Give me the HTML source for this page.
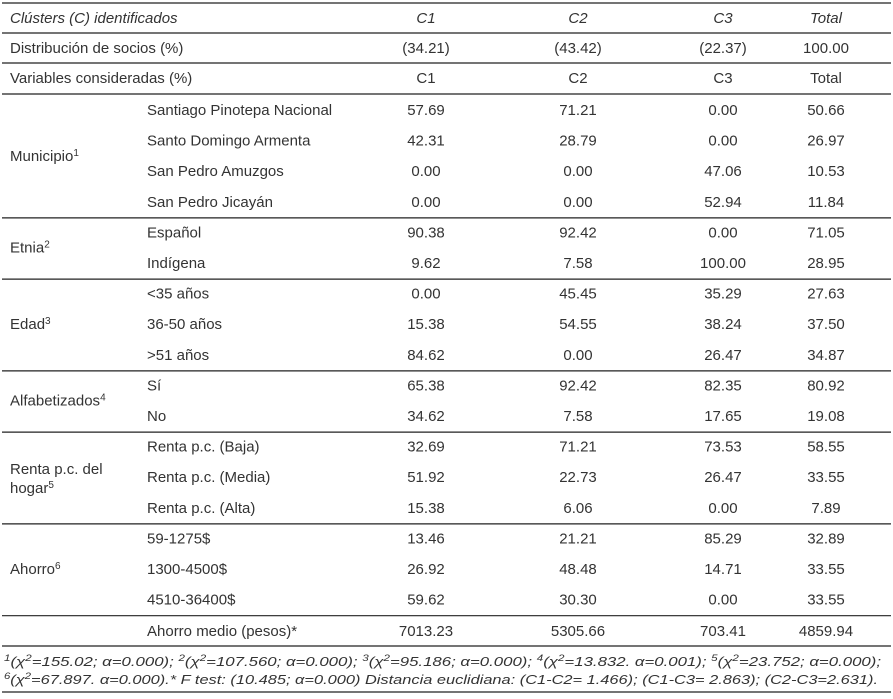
<!DOCTYPE html>
<html><head><meta charset="utf-8"><style>
html,body{margin:0;padding:0;background:#fff;}
svg{display:block;}
text{font-family:"Liberation Sans",sans-serif;font-size:15px;fill:#333;}
.fn{font-size:13px;font-style:italic;}
</style></head><body>
<svg id="t" width="893" height="699" viewBox="0 0 893 699"></svg>
<script>
const colX=[426,578,723,826];
const header=["C1","C2","C3","Total"];
const dist=["(34.21)","(43.42)","(22.37)","100.00"];
const groups=[
 {name:"Municipio",sup:"1",rows:[["Santiago Pinotepa Nacional","57.69","71.21","0.00","50.66"],["Santo Domingo Armenta","42.31","28.79","0.00","26.97"],["San Pedro Amuzgos","0.00","0.00","47.06","10.53"],["San Pedro Jicayán","0.00","0.00","52.94","11.84"]]},
 {name:"Etnia",sup:"2",rows:[["Español","90.38","92.42","0.00","71.05"],["Indígena","9.62","7.58","100.00","28.95"]]},
 {name:"Edad",sup:"3",rows:[["<35 años","0.00","45.45","35.29","27.63"],["36-50 años","15.38","54.55","38.24","37.50"],[">51 años","84.62","0.00","26.47","34.87"]]},
 {name:"Alfabetizados",sup:"4",rows:[["Sí","65.38","92.42","82.35","80.92"],["No","34.62","7.58","17.65","19.08"]]},
 {name:"Renta p.c. del|hogar",sup:"5",rows:[["Renta p.c. (Baja)","32.69","71.21","73.53","58.55"],["Renta p.c. (Media)","51.92","22.73","26.47","33.55"],["Renta p.c. (Alta)","15.38","6.06","0.00","7.89"]]},
 {name:"Ahorro",sup:"6",rows:[["59-1275$","13.46","21.21","85.29","32.89"],["1300-4500$","26.92","48.48","14.71","33.55"],["4510-36400$","59.62","30.30","0.00","33.55"]]}
];
const svg=document.getElementById('t');
const NS="http://www.w3.org/2000/svg";
function txt(x,y,s,anchor,cls){const e=document.createElementNS(NS,'text');e.setAttribute('x',x);e.setAttribute('y',y);if(anchor)e.setAttribute('text-anchor',anchor);if(cls)e.setAttribute('class',cls);e.textContent=s;svg.appendChild(e);return e;}
function sup(e,s){const t=document.createElementNS(NS,'tspan');t.setAttribute('font-size','10');t.setAttribute('dy','-5');t.textContent=s;e.appendChild(t);}
function span(e,s,isSup){const t=document.createElementNS(NS,'tspan');if(isSup){t.setAttribute('font-size','9');t.setAttribute('baseline-shift','super');}t.textContent=s;e.appendChild(t);}
function line(y){const l=document.createElementNS(NS,'line');l.setAttribute('x1',2);l.setAttribute('x2',891);l.setAttribute('y1',y);l.setAttribute('y2',y);l.setAttribute('stroke','#222');l.setAttribute('stroke-width','1.2');


svg.appendChild(l);}
const B=5;
line(3);
let e=txt(10,18+B,"Clústers (C) identificados");e.setAttribute('font-style','italic');


header.forEach((h,i)=>{const t=txt(colX[i],18+B,h,'middle');t.setAttribute('font-style','italic');});
line(33);
txt(10,48+B,"Distribución de socios (%)");
dist.forEach((h,i)=>txt(colX[i],48+B,h,'middle'));
line(63);
txt(10,78+B,"Variables consideradas (%)");
header.forEach((h,i)=>txt(colX[i],78+B,h,'middle'));
line(94);
let y=110;
groups.forEach((g,gi)=>{
 const y0=y;
 g.rows.forEach(r=>{
  const t=txt(147,y+B,r[0]);
  
  
  for(let i=1;i<5;i++){txt(colX[i-1],y+B,r[i],'middle');}
  y+=30.6;
 });
 const mid=(y0+y-30.6)/2;
 const parts=g.name.split('|');
 if(parts.length==1){const t=txt(10,mid+B,parts[0]);sup(t,g.sup);
  
  }
 else{txt(10,mid-8+B,parts[0]);const t=txt(10,mid+11+B,parts[1]);sup(t,g.sup);}
 line(y-15+0.5);
});
const am=["7013.23","5305.66","703.41","4859.94"];
txt(147,631+B,"Ahorro medio (pesos)*");
am.forEach((h,i)=>txt(colX[i],631+B,h,'middle'));
line(646);
const fn1=[["1",1],["(χ",0],["2",1],["=155.02; α=0.000); ",0],["2",1],["(χ",0],["2",1],["=107.560; α=0.000); ",0],["3",1],["(χ",0],["2",1],["=95.186; α=0.000); ",0],["4",1],["(χ",0],["2",1],["=13.832. α=0.001); ",0],["5",1],["(χ",0],["2",1],["=23.752; α=0.000);",0]];
const fn2=[["6",1],["(χ",0],["2",1],["=67.897. α=0.000).* F test: (10.485; α=0.000) Distancia euclidiana: (C1-C2= 1.466); (C1-C3= 2.863); (C2-C3=2.631).",0]];
const f1=txt(4,666,"",null,'fn');fn1.forEach(p=>span(f1,p[0],p[1]));
f1.setAttribute('textLength','877');f1.setAttribute('lengthAdjust','spacingAndGlyphs');
const f2=txt(4,684,"",null,'fn');fn2.forEach(p=>span(f2,p[0],p[1]));
f2.setAttribute('textLength','874');f2.setAttribute('lengthAdjust','spacingAndGlyphs');


line(692);
</script>
</body></html>
